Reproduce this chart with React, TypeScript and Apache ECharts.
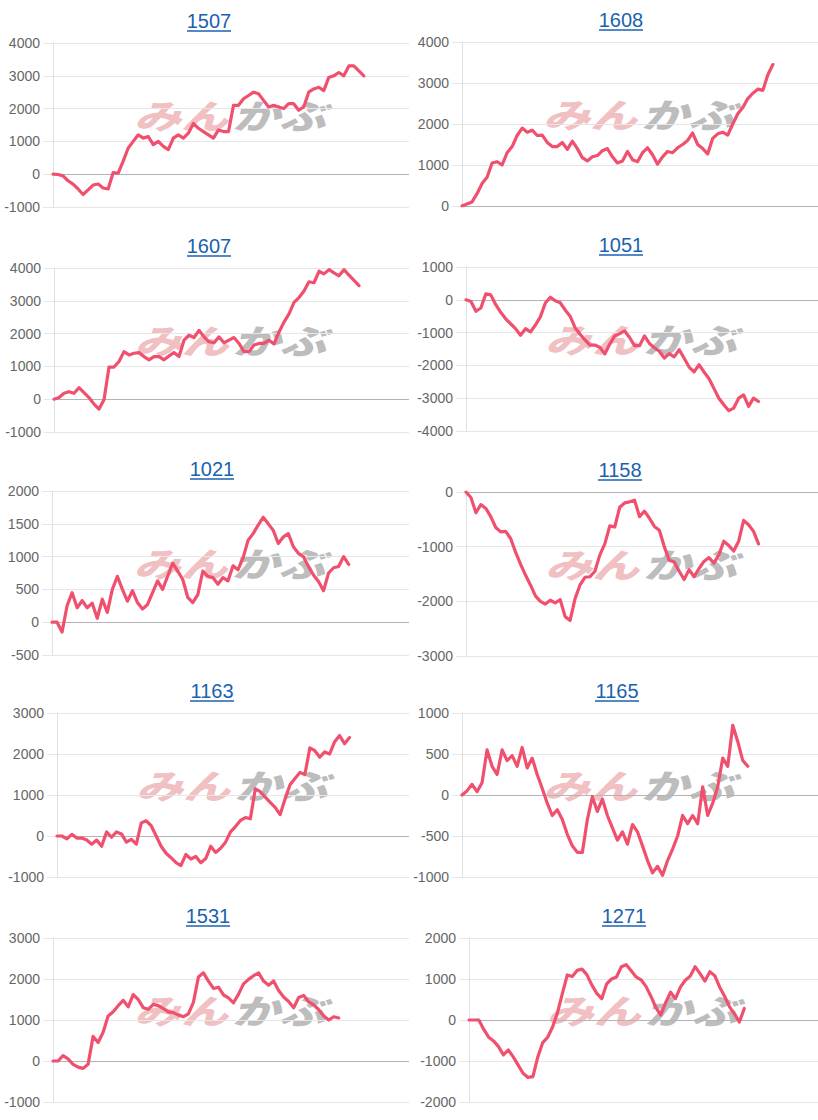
import React, { useEffect, useRef } from "react";
import * as echarts from "echarts";

// ---- data ----
const titles = ["1507", "1608", "1607", "1051", "1021", "1158", "1163", "1165", "1531", "1271"];

const s1507 = [0, -10, -50, -200, -300, -450, -620, -480, -330, -300, -420, -450, 50, 30, 400, 800, 1000, 1200, 1100, 1150, 900, 1000, 850, 750, 1100, 1200, 1100, 1250, 1550, 1400, 1300, 1200, 1100, 1350, 1300, 1300, 2100, 2100, 2300, 2400, 2500, 2450, 2250, 2050, 2100, 2050, 2000, 2150, 2150, 1950, 2050, 2500, 2600, 2650, 2550, 2950, 3000, 3100, 3000, 3300, 3300, 3150, 3000];
const s1608 = [0, 50, 100, 300, 550, 700, 1050, 1080, 1000, 1300, 1450, 1720, 1900, 1800, 1850, 1720, 1730, 1550, 1450, 1450, 1550, 1380, 1580, 1400, 1180, 1100, 1200, 1230, 1350, 1400, 1200, 1050, 1100, 1330, 1130, 1080, 1300, 1420, 1250, 1020, 1200, 1330, 1300, 1420, 1500, 1600, 1780, 1500, 1400, 1270, 1650, 1760, 1800, 1730, 2000, 2250, 2400, 2620, 2750, 2850, 2820, 3200, 3450];
const s1607 = [0, 50, 180, 230, 180, 350, 200, 50, -150, -300, -20, 980, 980, 1150, 1450, 1350, 1400, 1420, 1300, 1200, 1300, 1300, 1200, 1320, 1420, 1300, 1800, 1950, 1880, 2100, 1900, 1750, 1720, 1900, 1720, 1800, 1880, 1700, 1450, 1450, 1650, 1700, 1700, 1800, 1680, 2050, 2350, 2600, 2950, 3100, 3300, 3580, 3550, 3900, 3820, 3950, 3850, 3760, 3950, 3780, 3620, 3460];
const s1051 = [0, -50, -350, -250, 180, 150, -150, -380, -580, -730, -880, -1080, -880, -980, -770, -520, -100, 80, -30, -90, -310, -500, -850, -1050, -1220, -1380, -1380, -1450, -1650, -1350, -1100, -1030, -950, -1150, -1400, -1400, -1100, -1330, -1460, -1570, -1780, -1640, -1740, -1520, -1780, -2050, -2200, -1980, -2200, -2400, -2700, -3000, -3200, -3380, -3300, -3000, -2900, -3250, -3000, -3100];
const s1021 = [0, 0, -150, 250, 450, 220, 330, 220, 290, 60, 350, 150, 500, 700, 500, 320, 480, 300, 200, 270, 450, 630, 500, 700, 900, 780, 650, 380, 300, 420, 780, 700, 680, 580, 680, 630, 860, 800, 980, 1250, 1350, 1480, 1600, 1500, 1400, 1200, 1300, 1350, 1150, 1050, 1000, 850, 720, 620, 480, 750, 830, 850, 1000, 880];
const s1158 = [0, -100, -380, -230, -300, -450, -650, -730, -720, -850, -1100, -1320, -1520, -1700, -1900, -2000, -2050, -1980, -2030, -1970, -2280, -2350, -1950, -1700, -1560, -1550, -1450, -1150, -950, -620, -640, -280, -200, -180, -150, -450, -350, -480, -630, -700, -1000, -1250, -1280, -1450, -1600, -1420, -1550, -1400, -1270, -1200, -1300, -1150, -900, -980, -1080, -900, -520, -600, -720, -950];
const s1163 = [0, 0, -70, 40, -50, -50, -100, -200, -100, -250, 100, -30, 100, 50, -150, -80, -200, 320, 370, 250, 0, -250, -420, -530, -650, -720, -450, -560, -500, -650, -550, -250, -400, -300, -150, 100, 230, 380, 450, 420, 1150, 1080, 950, 820, 700, 520, 900, 1250, 1400, 1550, 1500, 2150, 2080, 1920, 2050, 2000, 2300, 2450, 2250, 2400];
const s1165 = [0, 50, 130, 40, 150, 550, 350, 250, 550, 420, 480, 350, 580, 330, 450, 250, 80, -100, -250, -180, -300, -480, -620, -700, -700, -300, -20, -200, -50, -250, -400, -550, -450, -600, -360, -450, -620, -800, -950, -870, -980, -800, -660, -500, -250, -350, -250, -350, 100, -250, -100, 100, 450, 350, 850, 650, 420, 350];
const s1531 = [0, 0, 130, 50, -80, -150, -180, -80, 600, 450, 700, 1100, 1200, 1350, 1480, 1320, 1620, 1500, 1300, 1260, 1380, 1350, 1280, 1200, 1180, 1120, 1080, 1150, 1430, 2050, 2150, 1950, 1770, 1800, 1610, 1540, 1420, 1630, 1880, 1990, 2080, 2150, 1950, 1850, 1950, 1720, 1560, 1450, 1300, 1550, 1600, 1440, 1370, 1250, 1100, 1000, 1080, 1050];
const s1271 = [0, 0, 0, -230, -420, -510, -650, -850, -730, -900, -1100, -1300, -1400, -1380, -900, -550, -420, -170, 180, 650, 1100, 1060, 1210, 1240, 1100, 850, 650, 520, 880, 1000, 1050, 1300, 1350, 1200, 1050, 980, 820, 580, 310, 120, 420, 680, 520, 800, 970, 1070, 1300, 1130, 950, 1180, 1080, 800, 580, 320, 150, -50, 280];

const seriesData = [s1507, s1608, s1607, s1051, s1021, s1158, s1163, s1165, s1531, s1271];

const yMin = [-1000, 0, -1000, -4000, -500, -3000, -1000, -1000, -1000, -2000];
const yMax = [4000, 4000, 4000, 1000, 2000, 0, 3000, 1000, 3000, 2000];
const yStep = [1000, 1000, 1000, 1000, 500, 1000, 1000, 500, 1000, 1000];

// hidden day categories shared by every panel
const dayLabels = [
  "1", "2", "3", "4", "5", "6", "7", "8", "9", "10", "11", "12", "13", "14", "15", "16", "17", "18",
  "19", "20", "21", "22", "23", "24", "25", "26", "27", "28", "29", "30", "31", "32", "33", "34", "35", "36",
  "37", "38", "39", "40", "41", "42", "43", "44", "45", "46", "47", "48", "49", "50", "51", "52", "53", "54",
  "55", "56", "57", "58", "59", "60", "61", "62", "63", "64", "65", "66", "67", "68", "69", "70", "71", "72",
];

// ---- layout ----
const plotLeft = [53, 462, 54, 466, 52, 466, 57, 462, 53, 469];
const plotTop = [43, 42, 268, 267, 491, 492, 713, 713, 938, 938];
const titleX = [209, 621, 209, 621, 212, 620, 212, 617, 208, 624];
const PLOT_H = 164;

const LINE_COLOR = "#f0506e";
const GRID_COLOR = "#e6e6e6";
const ZERO_COLOR = "#b4b4b4";
const TITLE_COLOR = "#1a62b0";
const FONT = "'Liberation Sans', Arial, sans-serif";

export default function App() {
  const ref = useRef<HTMLDivElement>(null);

  useEffect(() => {
    if (!ref.current) return;
    const chart = echarts.init(ref.current, undefined, { renderer: "svg" });

    const grids: any[] = [];
    const xAxes: any[] = [];
    const yAxes: any[] = [];
    const series: any[] = [];
    const graphics: any[] = [];

    titles.forEach((t, i) => {
      const col = i % 2;
      const rightEdge = col === 0 ? 409 : 818;
      const left = plotLeft[i];
      const top = plotTop[i];
      const width = rightEdge - left;
      grids.push({ left, top, width, height: PLOT_H, containLabel: false });

      xAxes.push({
        type: "category",
        gridIndex: i,
        data: dayLabels,
        boundaryGap: false,
        axisLine: { show: false },
        axisTick: { show: false },
        axisLabel: { show: false },
        splitLine: { show: false },
      });

      const ticks: number[] = [];
      for (let v = yMin[i]; v <= yMax[i]; v += yStep[i]) ticks.push(v);
      const colors = ticks.map((v) => (v === 0 ? ZERO_COLOR : GRID_COLOR));

      yAxes.push({
        type: "value",
        gridIndex: i,
        min: yMin[i],
        max: yMax[i],
        interval: yStep[i],
        axisLine: { show: true, lineStyle: { color: "#e0e0e0", width: 1 } },
        axisTick: { show: true, length: 10, lineStyle: { color: GRID_COLOR } },
        axisLabel: {
          color: "#666",
          fontSize: 14,
          fontFamily: FONT,
          margin: 13,
          formatter: (v: number) => String(v),
        },
        splitLine: { show: true, lineStyle: { color: colors, width: 1 } },
      });

      series.push({
        type: "line",
        xAxisIndex: i,
        yAxisIndex: i,
        data: seriesData[i],
        showSymbol: false,
        symbol: "none",
        z: 3,
        lineStyle: { color: LINE_COLOR, width: 3.2, join: "round", cap: "round" },
        itemStyle: { color: LINE_COLOR },
      });

      // title + underline
      const ty = top - 22;
      graphics.push({
        type: "text",
        x: titleX[i],
        y: ty,
        z: 10,
        style: {
          text: t,
          font: `20px ${FONT}`,
          fill: TITLE_COLOR,
          align: "center",
          textAlign: "center",
          verticalAlign: "middle",
          textVerticalAlign: "middle",
        },
      });
      graphics.push({
        type: "line",
        z: 10,
        shape: { x1: titleX[i] - 22, y1: ty + 10, x2: titleX[i] + 22, y2: ty + 10 },
        style: { stroke: TITLE_COLOR, lineWidth: 1.5 },
      });

      // watermark
      const cx = (left + rightEdge) / 2;
      const cy = top + 71;
      graphics.push({
        type: "text",
        x: cx - 3,
        y: cy,
        scaleY: 0.72,
        z: 0,
        silent: true,
        style: {
          text: "みん",
          font: `italic 900 47px 'Noto Sans CJK JP', sans-serif`,
          fill: "rgba(226,130,134,0.5)",
          align: "right",
          textAlign: "right",
          verticalAlign: "middle",
          textVerticalAlign: "middle",
        },
      });
      graphics.push({
        type: "text",
        x: cx + 1,
        y: cy,
        scaleY: 0.72,
        z: 0,
        silent: true,
        style: {
          text: "かぶ",
          font: `italic 900 47px 'Noto Sans CJK JP', sans-serif`,
          fill: "rgba(150,150,150,0.65)",
          align: "left",
          textAlign: "left",
          verticalAlign: "middle",
          textVerticalAlign: "middle",
        },
      });
    });

    chart.setOption({
      animation: false,
      backgroundColor: "#ffffff",
      grid: grids,
      xAxis: xAxes,
      yAxis: yAxes,
      series,
      graphic: { elements: graphics },
    });

    return () => chart.dispose();
  }, []);

  return (
    <div
      ref={ref}
      style={{ position: "absolute", left: 0, top: 0, width: 818, height: 1120 }}
    />
  );
}
